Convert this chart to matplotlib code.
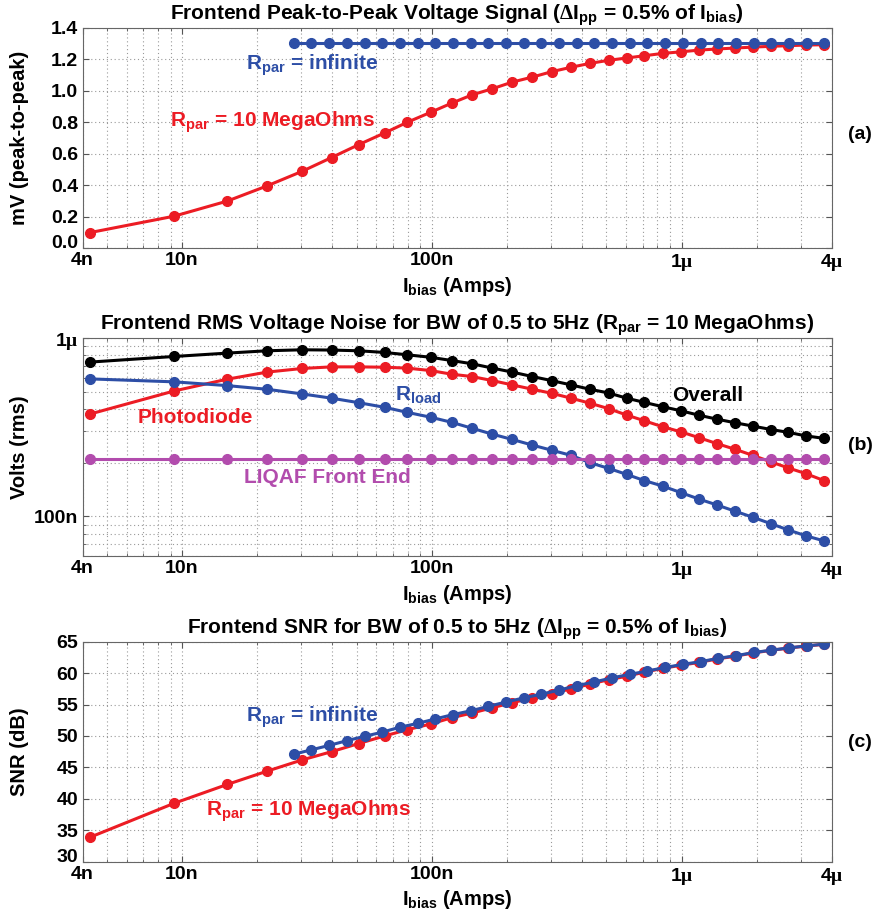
import matplotlib
matplotlib.use("Agg")
import matplotlib.pyplot as plt
import numpy as np
from matplotlib.ticker import FixedLocator, NullFormatter

plt.rcParams["font.family"] = ["Liberation Sans", "DejaVu Sans"]
plt.rcParams["font.weight"] = "bold"
plt.rcParams["axes.titleweight"] = "bold"
plt.rcParams["axes.labelweight"] = "bold"
plt.rcParams["mathtext.fontset"] = "custom"
plt.rcParams["mathtext.rm"] = "Liberation Serif"
plt.rcParams["mathtext.bf"] = "Liberation Sans:bold"

RED = "#ec1c24"
BLUE = "#2d4ea6"
MAGENTA = "#b24cad"
MU = r"$\mathrm{\mu}$"

# bias current sweep (nA) used by the R_par = 10 MegaOhms curves and all noise curves
i_bias = np.array([4.29, 9.31, 15.2, 21.9, 30.3, 39.7, 51.0, 64.7, 79.8, 98.9,
                   120, 145, 175, 210, 253, 302, 361, 430, 510, 603,
                   708, 840, 993, 1176, 1384, 1636, 1926, 2281, 2673, 3134, 3708]) * 1e-9
# bias current sweep (nA) used by the R_par = infinite curves
i_bias_inf = np.array([28.0, 33.0, 38.8, 45.7, 53.8, 63.3, 74.5, 87.7, 103, 121.5,
                       143, 168, 198, 233, 274.5, 323, 380, 448, 527, 620,
                       730, 860, 1012, 1191, 1402, 1650, 1943, 2287, 2692, 3169, 3730]) * 1e-9

# (a) peak-to-peak signal, mV
vpp_10meg = [0.10, 0.204, 0.30, 0.396, 0.489, 0.576, 0.658, 0.732, 0.80, 0.863,
             0.921, 0.974, 1.013, 1.055, 1.087, 1.121, 1.149, 1.174, 1.193, 1.208,
             1.222, 1.237, 1.247, 1.258, 1.265, 1.271, 1.277, 1.282, 1.286, 1.290, 1.292]
vpp_inf = [1.305] * 31

# (b) rms noise, nV
noise_overall = [733, 788, 823, 848, 859, 856, 848, 830, 805, 780,
                 748, 717, 678, 644, 608, 577, 546, 516, 492, 460,
                 436, 412, 391, 369, 351, 335, 321, 307, 296, 283, 274]
noise_photodiode = [375, 505, 588, 644, 675, 689, 689, 686, 678, 657,
                    627, 608, 577, 546, 516, 490, 460, 431, 402, 370,
                    344, 318, 298, 276, 256, 238, 220, 202, 187, 174, 159]
noise_rload = [590, 568, 541, 516, 486, 460, 434, 409, 383, 360,
               337, 312, 289, 270, 251, 235, 220, 200, 186, 172,
               159, 148, 136, 125, 116, 107, 99, 91, 84, 78, 73]
noise_liqaf = [211] * 31

# (c) SNR, dB
snr_10meg = [33.9, 39.3, 42.3, 44.4, 46.2, 47.5, 48.8, 50.0, 51.0, 51.9,
             52.9, 53.65, 54.5, 55.3, 56.05, 56.75, 57.5, 58.25, 58.95, 59.5,
             60.15, 60.75, 61.25, 61.7, 62.25, 62.68, 63.2, 63.62, 63.98, 64.3, 64.58]
snr_inf = [47.1, 47.8, 48.5, 49.25, 49.95, 50.6, 51.4, 52.0, 52.7, 53.4,
           54.0, 54.7, 55.4, 56.05, 56.65, 57.3, 58.0, 58.6, 59.25, 59.8,
           60.34, 60.9, 61.4, 61.82, 62.36, 62.77, 63.28, 63.65, 64.02, 64.33, 64.62]

x_ticks = [4e-9, 1e-8, 1e-7, 1e-6, 4e-6]
x_ticklabels = ["4n", "10n", "100n", "1" + MU, "4" + MU]
x_minor = [m * 10.0 ** e for e in (-9, -8, -7, -6) for m in range(2, 10)]

fig = plt.figure(figsize=(8.75, 9.18), dpi=100)
left, width = 0.0943, 0.8566
ax_a = fig.add_axes([left, 0.7295, width, 0.2403])
ax_b = fig.add_axes([left, 0.3943, width, 0.2375])
ax_c = fig.add_axes([left, 0.0613, width, 0.2397])

line_kw = dict(lw=2.2, marker="o", markersize=7)
grid_kw = dict(color="#9a9a9a", linestyle=(0, (1, 2.5)), lw=0.8)
TICK_FS = 14
LABEL_FS = 14.5
TITLE_FS = 15
NOTE_FS = 15


def style_axis(ax):
    ax.set_xscale("log")
    ax.set_xlim(4e-9, 4e-6)
    ax.xaxis.set_major_locator(FixedLocator(x_ticks))
    ax.set_xticklabels(x_ticklabels)
    ax.xaxis.set_minor_locator(FixedLocator(x_minor))
    ax.xaxis.set_minor_formatter(NullFormatter())
    ax.grid(True, which="both", **grid_kw)
    ax.set_axisbelow(True)
    ax.tick_params(which="both", direction="in", top=True, right=True,
                   labelsize=TICK_FS, color="#555555", pad=3)
    ax.tick_params(which="major", length=4)
    ax.tick_params(which="minor", length=2.5)
    for s in ax.spines.values():
        s.set_color("#666666")
    ax.set_xlabel(r"I$_{\mathbf{bias}}$ (Amps)", fontsize=LABEL_FS, labelpad=1)
    ax.yaxis.set_label_coords(-0.072, 0.5)


def lift_bottom_label(ax):
    # bottom y label sits on its baseline so it clears the "4n" label below it
    ax.yaxis.get_major_ticks()[0].label1.set_verticalalignment("baseline")


# (a)
ax = ax_a
ax.plot(i_bias, vpp_10meg, color=RED, **line_kw)
ax.plot(i_bias_inf, vpp_inf, color=BLUE, **line_kw)
style_axis(ax)
ax.set_ylim(0, 1.4)
ax.set_yticks(np.arange(0, 1.41, 0.2))
ax.set_yticklabels(["%.1f" % v for v in np.arange(0, 1.41, 0.2)])
lift_bottom_label(ax)
ax.set_ylabel("mV (peak-to-peak)", fontsize=LABEL_FS)
ax.set_title(r"Frontend Peak-to-Peak Voltage Signal ($\mathrm{\Delta}$I$_{\mathbf{pp}}$ = 0.5% of I$_{\mathbf{bias}}$)",
             fontsize=TITLE_FS, pad=6)
ax.text(0.2176, 0.8128, r"R$_{\mathbf{par}}$ = infinite", transform=ax.transAxes,
        color=BLUE, fontsize=NOTE_FS, va="baseline")
ax.text(0.117, 0.551, r"R$_{\mathbf{par}}$ = 10 MegaOhms", transform=ax.transAxes,
        color=RED, fontsize=NOTE_FS, va="baseline")

# (b)
ax = ax_b
ax.plot(i_bias, np.array(noise_overall) * 1e-9, color="black", **line_kw)
ax.plot(i_bias, np.array(noise_photodiode) * 1e-9, color=RED, **line_kw)
ax.plot(i_bias, np.array(noise_rload) * 1e-9, color=BLUE, **line_kw)
ax.plot(i_bias, np.array(noise_liqaf) * 1e-9, color=MAGENTA, **line_kw)
style_axis(ax)
ax.set_yscale("log")
ax.set_ylim(6e-8, 1e-6)
ax.yaxis.set_major_locator(FixedLocator([1e-7, 1e-6]))
ax.set_yticklabels(["100n", "1" + MU])
ax.yaxis.set_minor_locator(FixedLocator([6e-8, 7e-8, 8e-8, 9e-8] + [m * 1e-7 for m in range(2, 10)]))
ax.yaxis.set_minor_formatter(NullFormatter())
ax.grid(True, which="both", **grid_kw)
ax.set_ylabel("Volts (rms)", fontsize=LABEL_FS)
ax.set_title(r"Frontend RMS Voltage Noise for BW of 0.5 to 5Hz (R$_{\mathbf{par}}$ = 10 MegaOhms)",
             fontsize=TITLE_FS, pad=6)
ax.text(0.073, 0.611, "Photodiode", transform=ax.transAxes, color=RED, fontsize=NOTE_FS, va="baseline")
ax.text(0.417, 0.716, r"R$_{\mathbf{load}}$", transform=ax.transAxes, color=BLUE, fontsize=NOTE_FS, va="baseline")
ax.text(0.787, 0.712, "Overall", transform=ax.transAxes, color="black", fontsize=NOTE_FS, va="baseline")
ax.text(0.216, 0.336, "LIQAF Front End", transform=ax.transAxes, color=MAGENTA, fontsize=NOTE_FS, va="baseline")

# (c)
ax = ax_c
ax.plot(i_bias, snr_10meg, color=RED, **line_kw)
ax.plot(i_bias_inf, snr_inf, color=BLUE, **line_kw)
style_axis(ax)
ax.set_ylim(30, 65)
ax.set_yticks(range(30, 66, 5))
lift_bottom_label(ax)
ax.set_ylabel("SNR (dB)", fontsize=LABEL_FS)
ax.set_title(r"Frontend SNR for BW of 0.5 to 5Hz ($\mathrm{\Delta}$I$_{\mathbf{pp}}$ = 0.5% of I$_{\mathbf{bias}}$)",
             fontsize=TITLE_FS, pad=6)
ax.text(0.218, 0.636, r"R$_{\mathbf{par}}$ = infinite", transform=ax.transAxes,
        color=BLUE, fontsize=NOTE_FS, va="baseline")
ax.text(0.165, 0.212, r"R$_{\mathbf{par}}$ = 10 MegaOhms", transform=ax.transAxes,
        color=RED, fontsize=NOTE_FS, va="baseline")

for lab, yf in (("(a)", 0.853), ("(b)", 0.515), ("(c)", 0.191)):
    fig.text(0.983, yf, lab, ha="center", va="center", fontsize=14)

fig.savefig("out.png", dpi=100)
